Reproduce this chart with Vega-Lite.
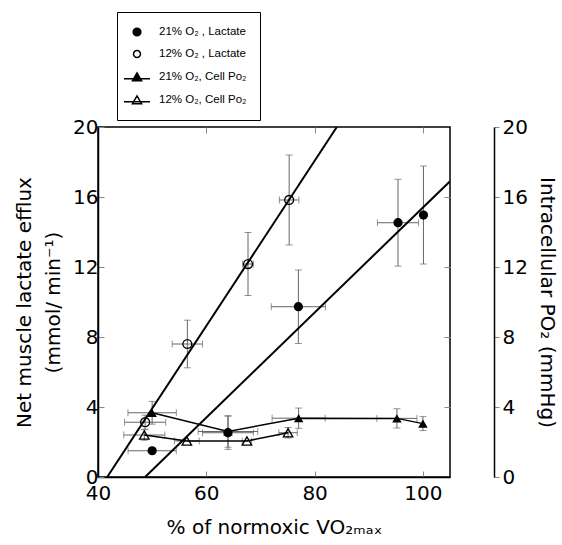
{
  "$schema": "https://vega.github.io/schema/vega-lite/v6.json",
  "width": 352,
  "height": 350,
  "autosize": {"type": "none"},
  "padding": {"left": 98, "top": 127, "right": 112, "bottom": 68},
  "config": {
    "view": {"stroke": "black", "strokeWidth": 1.5},
    "font": "DejaVu Sans",
    "axis": {
      "labelFont": "DejaVu Sans",
      "titleFont": "DejaVu Sans",
      "labelFontSize": 20,
      "titleFontSize": 20,
      "titleFontWeight": "normal",
      "labelColor": "black",
      "titleColor": "black",
      "domainColor": "black",
      "domainWidth": 1.5,
      "tickColor": "#888888",
      "tickWidth": 1,
      "labelFlush": false,
      "grid": false
    }
  },
  "datasets": {
    "points": [
      {"key": "L21", "x": 50.0, "y": 1.5, "xerr": 4.45, "yerr": 0},
      {"key": "L21", "x": 64.0, "y": 2.53, "xerr": 4.7, "yerr": 0.95},
      {"key": "L21", "x": 77.0, "y": 9.73, "xerr": 5.0, "yerr": 2.1},
      {"key": "L21", "x": 95.4, "y": 14.53, "xerr": 3.8, "yerr": 2.48},
      {"key": "L21", "x": 100.1, "y": 14.97, "xerr": 0, "yerr": 2.8},
      {"key": "L12", "x": 48.7, "y": 3.13, "xerr": 3.8, "yerr": 0.4},
      {"key": "L12", "x": 56.5, "y": 7.6, "xerr": 2.8, "yerr": 1.36},
      {"key": "L12", "x": 67.7, "y": 12.17, "xerr": 1.0, "yerr": 1.8},
      {"key": "L12", "x": 75.3, "y": 15.83, "xerr": 1.8, "yerr": 2.57},
      {"key": "P21", "x": 50.0, "y": 3.67, "xerr": 4.47, "yerr": 0.65},
      {"key": "P21", "x": 64.0, "y": 2.6, "xerr": 5.5, "yerr": 0.9},
      {"key": "P21", "x": 77.05, "y": 3.36, "xerr": 4.9, "yerr": 0.58},
      {"key": "P21", "x": 95.2, "y": 3.35, "xerr": 3.7, "yerr": 0.55},
      {"key": "P21", "x": 100.0, "y": 3.05, "xerr": 0, "yerr": 0.4},
      {"key": "P12", "x": 48.55, "y": 2.4, "xerr": 3.8, "yerr": 0.3},
      {"key": "P12", "x": 56.4, "y": 2.06, "xerr": 2.3, "yerr": 0},
      {"key": "P12", "x": 67.5, "y": 2.06, "xerr": 0.87, "yerr": 0},
      {"key": "P12", "x": 75.1, "y": 2.53, "xerr": 1.7, "yerr": 0.3}
    ],
    "fits": [
      {"id": "L21", "x": 48.7, "y": 0},
      {"id": "L21", "x": 105, "y": 16.9},
      {"id": "L12", "x": 41.7, "y": 0},
      {"id": "L12", "x": 84.1, "y": 20}
    ]
  },
  "resolve": {"axis": {"x": "independent", "y": "independent"}},
  "layer": [
    {
      "data": {"name": "points"},
      "transform": [{"filter": "datum.yerr > 0"}],
      "mark": {"type": "errorbar", "ticks": {"size": 7, "color": "#666666", "strokeWidth": 1}, "rule": {"color": "#666666", "strokeWidth": 1}},
      "encoding": {
        "x": {"field": "x", "type": "quantitative", "scale": {"domain": [40, 105], "nice": false, "zero": false}, "axis": null},
        "y": {"field": "y", "type": "quantitative", "scale": {"domain": [0, 20], "nice": false}, "axis": null},
        "yError": {"field": "yerr"}
      }
    },
    {
      "data": {"name": "points"},
      "transform": [{"filter": "datum.xerr > 0"}],
      "mark": {"type": "errorbar", "ticks": {"size": 7, "color": "#666666", "strokeWidth": 1}, "rule": {"color": "#666666", "strokeWidth": 1}},
      "encoding": {
        "x": {"field": "x", "type": "quantitative", "axis": null},
        "xError": {"field": "xerr"},
        "y": {"field": "y", "type": "quantitative", "axis": null}
      }
    },
    {
      "data": {"name": "points"},
      "transform": [{"filter": "datum.key === 'P21' || datum.key === 'P12'"}],
      "mark": {"type": "line", "color": "black", "strokeWidth": 1.5},
      "encoding": {
        "x": {"field": "x", "type": "quantitative", "axis": {"orient": "top", "values": [60, 80, 100], "labels": false, "domain": false, "tickSize": -6, "title": null}},
        "y": {"field": "y", "type": "quantitative", "axis": {"orient": "right", "offset": 44, "values": [0, 4, 8, 12, 16, 20], "tickSize": 5, "labelPadding": 3, "title": "Intracellular PO₂ (mmHg)", "titlePadding": 9}},
        "detail": {"field": "key"},
        "order": {"field": "x"}
      }
    },
    {
      "data": {"name": "fits"},
      "mark": {"type": "line", "color": "black", "strokeWidth": 2, "clip": true},
      "encoding": {
        "x": {"field": "x", "type": "quantitative", "axis": {"orient": "bottom", "values": [40, 60, 80, 100], "tickSize": -6, "labelPadding": 12, "title": "% of normoxic VO₂ₘₐₓ", "titlePadding": 14}},
        "y": {"field": "y", "type": "quantitative", "axis": {"orient": "left", "values": [0, 4, 8, 12, 16, 20], "tickSize": -6, "labelPadding": 6, "title": ["Net muscle lactate efflux", "(mmol/ min⁻¹)"], "titleLineHeight": 29, "titlePadding": 9}},
        "detail": {"field": "id"}
      }
    },
    {
      "data": {"name": "points"},
      "transform": [{"filter": "datum.key === 'L21'"}],
      "mark": {"type": "point", "shape": "circle", "filled": true, "color": "black", "size": 85, "opacity": 1},
      "encoding": {
        "x": {"field": "x", "type": "quantitative", "axis": null},
        "y": {"field": "y", "type": "quantitative", "axis": null}
      }
    },
    {
      "data": {"name": "points"},
      "transform": [{"filter": "datum.key === 'L12'"}],
      "mark": {"type": "point", "shape": "circle", "filled": false, "color": "black", "strokeWidth": 1.3, "size": 80, "opacity": 1},
      "encoding": {
        "x": {"field": "x", "type": "quantitative", "axis": null},
        "y": {"field": "y", "type": "quantitative", "axis": null}
      }
    },
    {
      "data": {"name": "points"},
      "transform": [{"filter": "datum.key === 'P21'"}],
      "mark": {"type": "point", "shape": "triangle-up", "filled": true, "color": "black", "size": 90, "opacity": 1},
      "encoding": {
        "x": {"field": "x", "type": "quantitative", "axis": null},
        "y": {"field": "y", "type": "quantitative", "axis": {"orient": "right", "values": [4, 8, 12, 16], "labels": false, "domain": false, "tickSize": -6, "title": null}}
      }
    },
    {
      "data": {"name": "points"},
      "transform": [{"filter": "datum.key === 'P12'"}],
      "mark": {"type": "point", "shape": "triangle-up", "filled": false, "color": "black", "strokeWidth": 1.3, "size": 90, "opacity": 1},
      "encoding": {
        "x": {"field": "x", "type": "quantitative", "axis": null},
        "y": {"field": "y", "type": "quantitative", "axis": null}
      }
    },
    {
      "data": {"name": "points"},
      "mark": {"type": "point", "filled": true, "opacity": 0, "stroke": "black", "strokeWidth": 1.2, "size": 144},
      "encoding": {
        "x": {"field": "x", "type": "quantitative", "axis": null},
        "y": {"field": "y", "type": "quantitative", "axis": null},
        "shape": {
          "field": "key", "type": "nominal",
          "scale": {
            "domain": ["L21", "L12", "P21", "P12"],
            "range": [
              "M0.64,0A0.64,0.64 0 1,1 -0.64,0A0.64,0.64 0 1,1 0.64,0Z",
              "M0.58,0A0.58,0.58 0 1,1 -0.58,0A0.58,0.58 0 1,1 0.58,0Z",
              "M-2.17,0.3H2.17M0,-0.67L0.76,0.62L-0.76,0.62Z",
              "M-2.17,0.3H2.17M0,-0.67L0.76,0.62L-0.76,0.62Z"
            ]
          },
          "legend": {
            "orient": "none",
            "legendX": 19,
            "legendY": -115,
            "title": null,
            "strokeColor": "black",
            "padding": 13,
            "symbolOpacity": 1,
            "symbolSize": 144,
            "labelFont": "Liberation Sans",
            "labelFontSize": 11.5,
            "labelColor": "black",
            "labelOffset": 15,
            "rowPadding": 8,
            "labelExpr": "{'L21': '21% O₂ , Lactate', 'L12': '12% O₂ , Lactate', 'P21': '21% O₂, Cell Po₂', 'P12': '12% O₂, Cell Po₂'}[datum.label]",
            "encode": {"symbols": {"update": {"stroke": {"value": "black"}, "strokeWidth": {"value": 1.2}, "opacity": {"value": 1}}}}
          }
        },
        "fill": {
          "field": "key", "type": "nominal",
          "scale": {"domain": ["L21", "L12", "P21", "P12"], "range": ["black", "transparent", "black", "transparent"]},
          "legend": {
            "orient": "none",
            "legendX": 19,
            "legendY": -115,
            "title": null,
            "strokeColor": "black",
            "padding": 13,
            "symbolOpacity": 1,
            "symbolSize": 144,
            "labelFont": "Liberation Sans",
            "labelFontSize": 11.5,
            "labelColor": "black",
            "labelOffset": 15,
            "rowPadding": 8,
            "labelExpr": "{'L21': '21% O₂ , Lactate', 'L12': '12% O₂ , Lactate', 'P21': '21% O₂, Cell Po₂', 'P12': '12% O₂, Cell Po₂'}[datum.label]",
            "encode": {"symbols": {"update": {"stroke": {"value": "black"}, "strokeWidth": {"value": 1.2}, "opacity": {"value": 1}}}}
          }
        }
      }
    }
  ]
}
